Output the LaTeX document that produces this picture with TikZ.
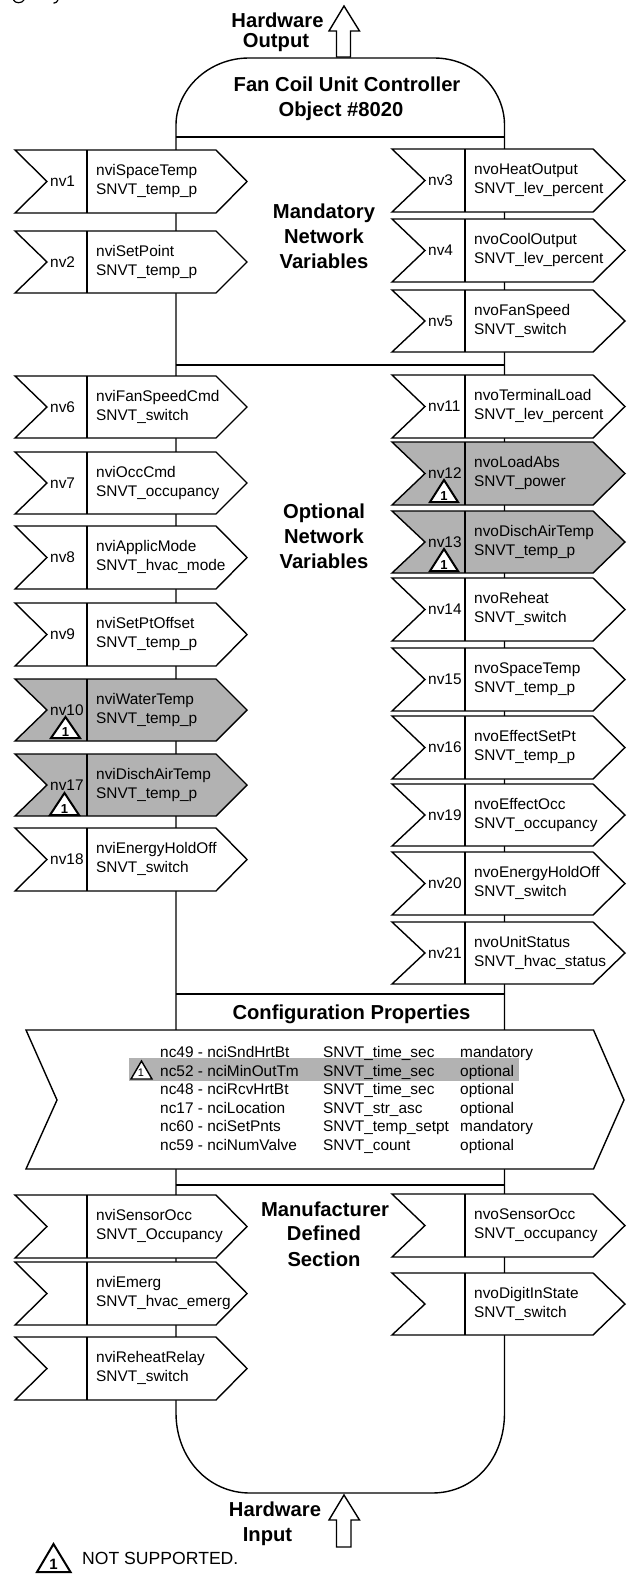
\documentclass[tikz,border=0pt]{standalone}
\usepackage{fontspec}
\setmainfont{Liberation Sans}
\newcommand{\sz}{\fontsize{15.4bp}{18bp}\selectfont}
\newcommand{\bz}{\fontsize{20.2bp}{24bp}\selectfont\bfseries}
\definecolor{greybox}{HTML}{B2B2B2}
\tikzset{
  ln/.style={draw=black,line width=1.4bp,line join=miter},
  lbl/.style={inner sep=0pt,anchor=base west,font=\sz},
  ttl/.style={inner sep=0pt,anchor=base,font=\bz},
  trimark/.style={draw=black,fill=white,line width=2bp,line join=miter},
  onefig/.style={inner sep=0pt,anchor=base,font=\fontsize{13bp}{13bp}\selectfont\bfseries},
}
% #1 name #2 top y #3 bottom y #4 nv label #5 line1 #6 line2 #7 fill
\newcommand{\lbox}[7]{%
  \path[ln,fill=#7] (15,#2) -- (216,#2) -- (247,{(#2+#3)/2}) -- (216,#3) -- (15,#3) -- (47,{(#2+#3)/2}) -- cycle;
  \draw[ln] (87,#2) -- (87,#3);
  \node[lbl] (#1v) at (50,{(#2+#3)/2+5}) {#4};
  \node[lbl] (#1a) at (96,#2+25.5) {#5};
  \node[lbl] (#1b) at (96,#2+44.5) {#6};
}
\newcommand{\rbox}[7]{%
  \path[ln,fill=#7] (392,#2) -- (593,#2) -- (625,{(#2+#3)/2}) -- (593,#3) -- (392,#3) -- (425,{(#2+#3)/2}) -- cycle;
  \draw[ln] (465,#2) -- (465,#3);
  \node[lbl] (#1v) at (428,{(#2+#3)/2+5}) {#4};
  \node[lbl] (#1a) at (474,#2+25.5) {#5};
  \node[lbl] (#1b) at (474,#2+44.5) {#6};
}
% #1 name #2 left x #3 right x #4 top y #5 bottom y
\newcommand{\tmark}[5]{%
  \path[trimark] (#2,#5) -- ({(#2+#3)/2},#4) -- (#3,#5) -- cycle;
  \node[onefig] (#1) at ({(#2+#3)/2},#5-1.5) {1};
}
\begin{document}
\begin{tikzpicture}[x=1bp,y=-1bp]
\useasboundingbox (0,0) rectangle (631,1574);
\fill[white] (0,0) rectangle (631,1574);
% ink remnants at the top edge of the picture
\draw[black,line width=1.2bp] (13.5,0) .. controls (15,3.6) and (22,3.6) .. (24,0);
\draw[black,line width=1.2bp] (58,0) .. controls (57,2) and (56,3) .. (53.5,3.2);
% body outline
\path[ln] (176,1413) -- (176,125) .. controls (176,90) and (208,58) .. (249,58)
  -- (434,58) .. controls (475,58) and (504.5,90) .. (504.5,125)
  -- (504.5,1413) .. controls (504.5,1458) and (475,1493) .. (432,1493)
  -- (250,1493) .. controls (208,1493) and (176,1458) .. (176,1413) -- cycle;
\foreach \yy in {137,365,994,1185} \draw[ln] (176,\yy) -- (504.5,\yy);
% top arrow
\path[ln,fill=white] (336.5,57) -- (336.5,31) -- (329,31) -- (344,6) -- (359.5,31) -- (350.5,31) -- (350.5,57) -- cycle;
% bottom arrow
\path[ln,fill=white] (336.5,1547) -- (336.5,1520) -- (329,1520) -- (344,1495) -- (359.5,1520) -- (351,1520) -- (351,1547) -- cycle;
% titles
\node[ttl] (hw1) at (277.5,28) {Hardware};
\node[ttl] (hw2) at (276,48) {Output};
\node[ttl] (t1) at (347,92) {Fan Coil Unit Controller};
\node[ttl] (t2) at (341,116.5) {Object \#8020};
\node[ttl] (m1) at (324,218) {Mandatory};
\node[ttl] (m2) at (324,243) {Network};
\node[ttl] (m3) at (324,268) {Variables};
\node[ttl] (o1) at (324,518) {Optional};
\node[ttl] (o2) at (324,543) {Network};
\node[ttl] (o3) at (324,568) {Variables};
\node[ttl] (c1) at (351.5,1019) {Configuration Properties};
\node[ttl] (d1) at (325,1216) {Manufacturer};
\node[ttl] (d2) at (324,1240.5) {Defined};
\node[ttl] (d3) at (324,1266) {Section};
\node[ttl] (hi1) at (275,1516) {Hardware};
\node[ttl] (hi2) at (267.5,1541) {Input};
% left boxes
\lbox{n1}{150}{213}{nv1}{nviSpaceTemp}{SNVT\_temp\_p}{white}
\lbox{n2}{231}{293}{nv2}{nviSetPoint}{SNVT\_temp\_p}{white}
\lbox{n6}{376}{438}{nv6}{nviFanSpeedCmd}{SNVT\_switch}{white}
\lbox{n7}{452}{514}{nv7}{nviOccCmd}{SNVT\_occupancy}{white}
\lbox{n8}{526}{589}{nv8}{nviApplicMode}{SNVT\_hvac\_mode}{white}
\lbox{n9}{603}{666}{nv9}{nviSetPtOffset}{SNVT\_temp\_p}{white}
\lbox{n10}{679}{741}{nv10}{nviWaterTemp}{SNVT\_temp\_p}{greybox}
\lbox{n17}{754}{816}{nv17}{nviDischAirTemp}{SNVT\_temp\_p}{greybox}
\lbox{n18}{828}{891}{nv18}{nviEnergyHoldOff}{SNVT\_switch}{white}
% right boxes
\rbox{n3}{149}{212}{nv3}{nvoHeatOutput}{SNVT\_lev\_percent}{white}
\rbox{n4}{219}{282}{nv4}{nvoCoolOutput}{SNVT\_lev\_percent}{white}
\rbox{n5}{290}{352}{nv5}{nvoFanSpeed}{SNVT\_switch}{white}
\rbox{n11}{375}{438}{nv11}{nvoTerminalLoad}{SNVT\_lev\_percent}{white}
\rbox{n12}{442}{505}{nv12}{nvoLoadAbs}{SNVT\_power}{greybox}
\rbox{n13}{511}{573}{nv13}{nvoDischAirTemp}{SNVT\_temp\_p}{greybox}
\rbox{n14}{578}{641}{nv14}{nvoReheat}{SNVT\_switch}{white}
\rbox{n15}{648}{711}{nv15}{nvoSpaceTemp}{SNVT\_temp\_p}{white}
\rbox{n16}{716}{779}{nv16}{nvoEffectSetPt}{SNVT\_temp\_p}{white}
\rbox{n19}{784}{846}{nv19}{nvoEffectOcc}{SNVT\_occupancy}{white}
\rbox{n20}{852}{915}{nv20}{nvoEnergyHoldOff}{SNVT\_switch}{white}
\rbox{n21}{922}{984}{nv21}{nvoUnitStatus}{SNVT\_hvac\_status}{white}
% manufacturer
\lbox{p1}{1195}{1258}{}{nviSensorOcc}{SNVT\_Occupancy}{white}
\lbox{p2}{1262}{1325}{}{nviEmerg}{SNVT\_hvac\_emerg}{white}
\lbox{p3}{1337}{1400}{}{nviReheatRelay}{SNVT\_switch}{white}
\rbox{q1}{1194}{1257}{}{nvoSensorOcc}{SNVT\_occupancy}{white}
\rbox{q2}{1273}{1335}{}{nvoDigitInState}{SNVT\_switch}{white}
% config chevron
\path[ln,fill=white] (26,1030) -- (593.5,1030) -- (624,1100) -- (593.5,1169) -- (26,1169) -- (57,1100) -- cycle;
\fill[greybox] (129,1058) rectangle (519,1081);
\foreach \nm/\yy/\ta/\tb/\tc in {
  r1/1057/nc49 - nciSndHrtBt/SNVT\_time\_sec/mandatory,
  r2/1076/nc52 - nciMinOutTm/SNVT\_time\_sec/optional,
  r3/1094/nc48 - nciRcvHrtBt/SNVT\_time\_sec/optional,
  r4/1113/nc17 - nciLocation/SNVT\_str\_asc/optional,
  r5/1131/nc60 - nciSetPnts/SNVT\_temp\_setpt/mandatory,
  r6/1150/nc59 - nciNumValve/SNVT\_count/optional}{
  \node[lbl] (\nm a) at (160,\yy) {\ta};
  \node[lbl] (\nm b) at (323,\yy) {\tb};
  \node[lbl] (\nm c) at (460,\yy) {\tc};
}
% not-supported marks
\tmark{k10}{51}{80}{717}{738}
\tmark{k17}{50}{79}{793}{815}
\tmark{k12}{430}{458}{480}{502}
\tmark{k13}{430}{458}{549}{571}
\path[draw=black,fill=white,line width=1.4bp,line join=miter] (131,1079) -- (141.5,1061) -- (152,1079) -- cycle;
\node[inner sep=0pt,anchor=base,font=\fontsize{11bp}{11bp}\selectfont] (k52) at (141,1076.5) {1};
\path[trimark] (37,1572) -- (53.5,1544) -- (70.5,1572) -- cycle;
\node[inner sep=0pt,anchor=base,font=\fontsize{15bp}{15bp}\selectfont\bfseries] (leg1) at (53.5,1569) {1};
\node[inner sep=0pt,anchor=base west,font=\fontsize{17.6bp}{20bp}\selectfont] (leg) at (82,1564) {NOT SUPPORTED.};
\end{tikzpicture}
\end{document}
